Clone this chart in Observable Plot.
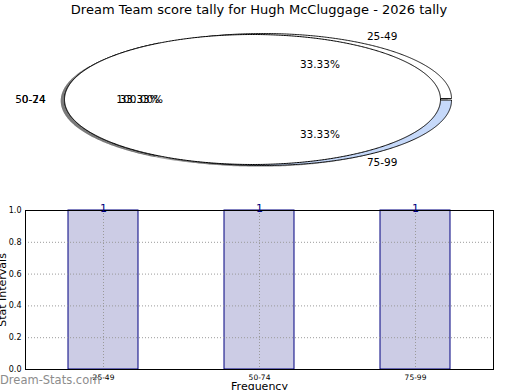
<!DOCTYPE html>
<html><head><meta charset="utf-8">
<script src="https://cdn.jsdelivr.net/npm/d3@7"></script>
<script src="https://cdn.jsdelivr.net/npm/@observablehq/plot@0.6"></script>
<style>
body{margin:0;background:#fff;font-family:"DejaVu Sans",sans-serif;}
#wrap{position:relative;width:520px;height:390px;overflow:hidden;background:#fff;}
#title{position:absolute;left:0;top:2px;width:518px;text-align:center;font-size:13px;color:#000;line-height:16px;}
#pie{position:absolute;left:0;top:0;}
#bar{position:absolute;left:0;top:195px;}
#wm{position:absolute;left:0;top:373px;font-size:11.5px;color:#8c8c8c;line-height:14px;}
</style></head><body>
<div id="wrap"><div id="pie"></div><div id="bar"></div>
<div id="title">Dream Team score tally for Hugh McCluggage - 2026 tally</div>
<div id="wm">Dream-Stats.com</div></div>
<script>
// ---- data ----
const pieCategories = ["25-49", "50-74", "75-99"];
const pieValues = [1, 1, 1];
const overlayCategories = ["0-24"];
const overlayValues = [1];
const barCategories = ["25-49", "50-74", "75-99"];
const barValues = [1, 1, 1];
const yTickValues = [0, 0.2, 0.4, 0.6, 0.8, 1.0];

// ---- styles ----
const pieFills = ["#ffffff", "#ffffff", "#c6d9fa"];
const pieOffsets = [[0.0585, 0.015], [0, 0], [0.0585, -0.015]];
const overlayFills = ["#ffffff"];
const font = "DejaVu Sans";

function makeWedges(cats, vals, offsets) {
  const total = d3.sum(vals);
  let cum = 0;
  return vals.map((v, i) => {
    const a0 = 2 * Math.PI * cum / total;
    cum += v;
    const a1 = 2 * Math.PI * cum / total;
    const [ox, oy] = offsets ? offsets[i] : [0, 0];
    return {cat: cats[i], v, pct: v / total, a0, a1, ox, oy};
  });
}
function wedgePts(w, sx = 0, sy = 0) {
  const pts = [];
  const full = (w.a1 - w.a0) >= 2 * Math.PI - 1e-9;
  const cx = w.ox + sx, cy = w.oy + sy;
  if (!full) pts.push([cx, cy]);
  const n = Math.max(2, Math.ceil((w.a1 - w.a0) / (Math.PI / 360)));
  for (let i = 0; i <= n; i++) {
    const a = w.a0 + (w.a1 - w.a0) * i / n;
    pts.push([cx + Math.cos(a), cy + Math.sin(a)]);
  }
  return pts;
}

const back = makeWedges(pieCategories, pieValues, pieOffsets);
const front = makeWedges(overlayCategories, overlayValues, null);
const all = [...back, ...front];

const labelData = all.map(w => {
  const m = (w.a0 + w.a1) / 2;
  return {
    lx: w.ox + 1.1 * Math.cos(m), ly: w.oy + 1.1 * Math.sin(m),
    px: w.ox + 0.6 * Math.cos(m), py: w.oy + 0.6 * Math.sin(m),
    cat: w.cat, pctText: d3.format(".2f")(w.pct * 100) + "%"
  };
});

const pieMarks = [];
// shadows
all.forEach(w => {
  pieMarks.push(Plot.line(wedgePts(w, -0.02, -0.02), {
    x: d => d[0], y: d => d[1], curve: "linear-closed",
    fill: "#4d4d4d", fillOpacity: 0.5, stroke: "none"
  }));
});
back.forEach((w, i) => {
  pieMarks.push(Plot.line(wedgePts(w), {
    x: d => d[0], y: d => d[1], curve: "linear-closed",
    fill: pieFills[i], stroke: "#000", strokeWidth: 0.9
  }));
});
front.forEach((w, i) => {
  pieMarks.push(Plot.line(wedgePts(w), {
    x: d => d[0], y: d => d[1], curve: "linear-closed",
    fill: overlayFills[i], stroke: "#000", strokeWidth: 1
  }));
});
pieMarks.push(Plot.text(labelData.filter(d => d.lx > 0), {
  x: "lx", y: "ly", text: "cat", textAnchor: "start", fontSize: 10.5, fill: "#000"
}));
pieMarks.push(Plot.text(labelData.filter(d => d.lx <= 0), {
  x: "lx", y: "ly", text: "cat", textAnchor: "end", fontSize: 10.5, fill: "#000"
}));
pieMarks.push(Plot.text(labelData, {
  x: "px", y: "py", text: "pctText", textAnchor: "middle", fontSize: 10.5, fill: "#000"
}));

const pie = Plot.plot({
  width: 520, height: 190,
  style: {fontFamily: font, background: "transparent", overflow: "visible"},
  x: {domain: [-1, 1], range: [64, 440], axis: null},
  y: {domain: [-1, 1], range: [164, 34], axis: null},
  marks: pieMarks
});
document.getElementById("pie").append(pie);

// ---- bar chart ----
const barData = barCategories.map((c, i) => ({cat: c, value: barValues[i]}));
const bar = Plot.plot({
  width: 520, height: 195,
  marginLeft: 25, marginRight: 27, marginTop: 15, marginBottom: 21,
  style: {fontFamily: font, background: "transparent", overflow: "visible", color: "#000"},
  x: {domain: barCategories, paddingInner: 0.55, paddingOuter: 0.275, axis: null},
  y: {domain: [0, 1], axis: null},
  marks: [
    Plot.barY(barData, {x: "cat", y: "value", fill: "#cccce5", stroke: "#000080", strokeWidth: 1}),
    Plot.gridY(yTickValues.filter(v => v > 0 && v < 1), {stroke: "#9a9a9a", strokeOpacity: 1, strokeDasharray: "1,2"}),
    Plot.gridX(barCategories, {stroke: "#9a9a9a", strokeOpacity: 1, strokeDasharray: "1,2"}),
    Plot.frame({stroke: "#000", strokeWidth: 1}),
    Plot.axisY(yTickValues, {tickFormat: d3.format(".1f"), tickSize: 0, tickPadding: 4, fontSize: 8, label: null}),
    Plot.axisX(barCategories, {tickSize: 0, tickPadding: 5, fontSize: 7.5, label: null}),
    Plot.text(barData, {x: "cat", y: "value", text: d => String(d.value), lineAnchor: "bottom", dy: 1, fill: "#000080", fontSize: 11}),
    Plot.text(["Frequency"], {frameAnchor: "bottom", dy: 20, fontSize: 11, fill: "#000"}),
    Plot.text(["Stat Intervals"], {frameAnchor: "left", dx: -23, rotate: -90, textAnchor: "middle", fontSize: 11, fill: "#000"})
  ]
});
document.getElementById("bar").append(bar);
</script>
</body></html>
